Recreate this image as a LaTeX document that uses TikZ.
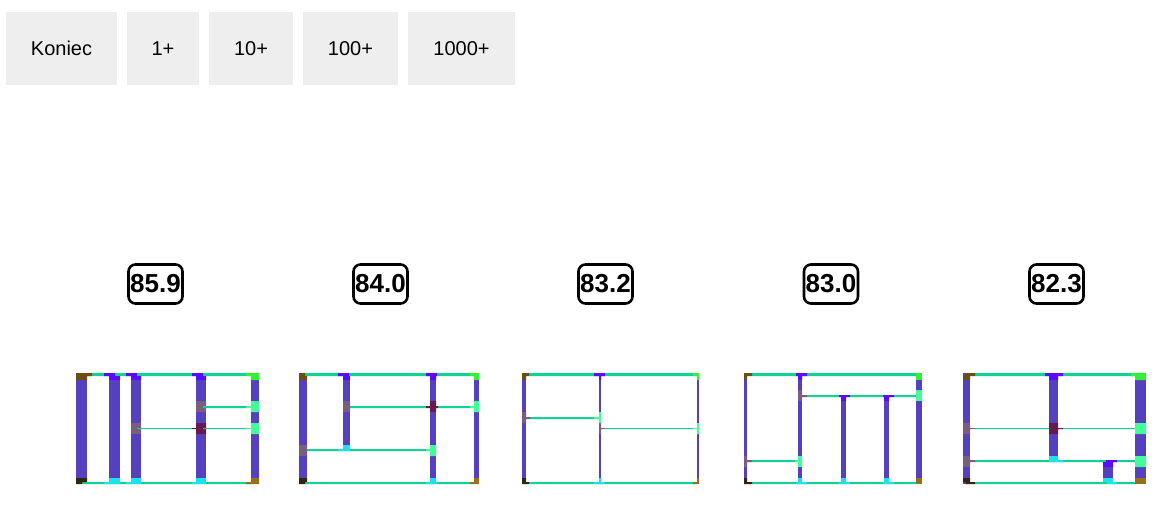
\documentclass[tikz,border=0pt]{standalone}
\usepackage{fontspec}
\setmainfont{Liberation Sans}
\definecolor{btngray}{HTML}{EEEEEE}
\definecolor{wallblue}{HTML}{5541C0}
\definecolor{wallgreen}{HTML}{0FD392}
\definecolor{joinviolet}{HTML}{5A0CFA}
\definecolor{joincyan}{HTML}{1FE1E8}
\definecolor{joinmint}{HTML}{45FC9A}
\definecolor{jointan}{HTML}{7B5E7E}
\definecolor{joincross}{HTML}{661A50}
\definecolor{cornertl}{HTML}{6B4E14}
\definecolor{cornerbl}{HTML}{33240E}
\definecolor{cornertr}{HTML}{32F032}
\definecolor{cornerbr}{HTML}{96701C}
\tikzset{
  btn/.style={fill=btngray,minimum height=73pt,inner sep=0pt,font=\fontsize{20}{24}\selectfont},
  score/.style={draw=black,line width=2.6pt,rounded corners=7pt,minimum width=54pt,minimum height=39pt,inner sep=0pt,fill=white,font=\fontsize{26}{30}\selectfont\bfseries},
  wall/.style={fill=wallblue},
  rail/.style={fill=wallgreen},
  topj/.style={fill=joinviolet},
  botj/.style={fill=joincyan},
  mintj/.style={fill=joinmint},
  tanj/.style={fill=jointan},
  crossj/.style={fill=joincross}
}
\begin{document}
\begin{tikzpicture}[x=1pt,y=-1pt]
\useasboundingbox (0,0) rectangle (1157,511);
\node[btn,minimum width=111pt] (koniec) at (61.5,48.5) {Koniec};
\node[btn,minimum width=72pt] (one) at (163,48.5) {1+};
\node[btn,minimum width=84pt] (ten) at (251,48.5) {10+};
\node[btn,minimum width=95pt] (hundred) at (350.5,48.5) {100+};
\node[btn,minimum width=107pt] (thousand) at (461.5,48.5) {1000+};
\foreach \cx/\val in {155.5/85.9,380.5/84.0,605.5/83.2,831/83.0,1056.5/82.3}
  \node[score] (score\val) at (\cx,284) {\val};
% first plan
\foreach \xa/\xb in {76/87,109/120,131/141,196/206,251/259}
  \fill[wall] (\xa,373) rectangle (\xb,484);
\fill[rail] (82,373) rectangle (251,376) (82,482) rectangle (251,484);
\fill[rail] (137,428) rectangle (192,429) (206,428) rectangle (246,429) (203,406) rectangle (246,408);
\fill[fill=cornertl] (76,373) rectangle (92,376) (76,376) rectangle (87,380);
\fill[fill=cornerbl] (76,478) rectangle (87,482) (76,482) rectangle (82,484);
\fill[fill=cornertr] (246,373) rectangle (259,376) (251,376) rectangle (259,380);
\fill[fill=cornerbr] (246,482) rectangle (259,484) (251,478) rectangle (259,482);
\fill[topj] (104,373) rectangle (115,376) (109,376) rectangle (120,380);
\fill[topj] (126,373) rectangle (137,376) (131,376) rectangle (141,380);
\fill[topj] (192,373) rectangle (203,376) (196,376) rectangle (206,380);
\fill[botj] (104,482) rectangle (120,484) (109,478) rectangle (120,482);
\fill[botj] (126,482) rectangle (141,484) (131,478) rectangle (141,482);
\fill[botj] (192,482) rectangle (206,484) (196,478) rectangle (206,482);
\fill[tanj] (131,423) rectangle (141,434) (196,401) rectangle (206,412);
\fill[crossj] (196,423) rectangle (206,434) (192,428) rectangle (196,429);
\fill[mintj] (251,401) rectangle (259,412) (251,423) rectangle (259,434);
\fill[mintj] (246,406) rectangle (251,408) (246,428) rectangle (251,429);
\fill[rail] (137,428) rectangle (141,429) (203,406) rectangle (206,408) (203,428) rectangle (206,429);
% second plan
\foreach \xa/\xb in {299/307,430/436,474/479}
  \fill[wall] (\xa,373) rectangle (\xb,484);
\fill[wall] (343,373) rectangle (350,449);
\fill[rail] (305,373) rectangle (470,376) (305,482) rectangle (470,484);
\fill[rail] (349,406) rectangle (426,408) (438,406) rectangle (470,408) (305,449) rectangle (426,451);
\fill[fill=cornertl] (299,373) rectangle (305,376) (299,376) rectangle (307,380);
\fill[fill=cornerbl] (299,478) rectangle (307,482) (299,482) rectangle (305,484);
\fill[fill=cornertr] (470,373) rectangle (479,376) (474,376) rectangle (479,380);
\fill[fill=cornerbr] (470,482) rectangle (479,484) (474,478) rectangle (479,482);
\fill[topj] (338,373) rectangle (349,376) (343,376) rectangle (350,380);
\fill[topj] (426,373) rectangle (437,376) (430,376) rectangle (436,380);
\fill[botj] (426,482) rectangle (437,484) (430,478) rectangle (436,482);
\fill[botj] (338,449) rectangle (350,451) (343,445) rectangle (350,449);
\fill[tanj] (299,445) rectangle (307,456) (343,401) rectangle (350,412);
\fill[crossj] (430,401) rectangle (436,412) (426,406) rectangle (438,408);
\fill[mintj] (474,401) rectangle (479,412) (470,406) rectangle (474,408);
\fill[mintj] (430,445) rectangle (436,456) (426,449) rectangle (430,451);
% third plan
\foreach \xa/\xb in {522/526,599/601,697/699}
  \fill[wall] (\xa,373) rectangle (\xb,484);
\fill[rail] (529,373) rectangle (693,376) (529,482) rectangle (693,484);
\fill[rail] (530,417) rectangle (594,419) (605,428) rectangle (693,429);
\fill[fill=cornertl] (522,373) rectangle (529,376) (522,376) rectangle (526,380);
\fill[fill=cornerbl] (522,478) rectangle (526,482) (522,482) rectangle (529,484);
\fill[fill=cornertr] (693,373) rectangle (699,376) (697,376) rectangle (699,380);
\fill[fill=cornerbr] (693,482) rectangle (699,484) (697,478) rectangle (699,482);
\fill[topj] (594,373) rectangle (605,376) (599,376) rectangle (601,380);
\fill[botj] (594,482) rectangle (605,484) (599,478) rectangle (601,482);
\fill[tanj] (522,412) rectangle (526,423) (526,417) rectangle (530,419);
\fill[tanj] (599,423) rectangle (601,434) (601,428) rectangle (605,429);
\fill[mintj] (599,412) rectangle (601,423) (594,417) rectangle (599,419);
\fill[mintj] (697,423) rectangle (699,434) (693,428) rectangle (697,429);
% fourth plan
\foreach \xa/\xb in {744/747,798/802,916/922}
  \fill[wall] (\xa,373) rectangle (\xb,484);
\foreach \xa/\xb in {841/846,884/889}
  \fill[wall] (\xa,397) rectangle (\xb,484);
\fill[rail] (752,373) rectangle (916,376) (752,482) rectangle (916,484);
\fill[rail] (807,395) rectangle (916,397) (752,460) rectangle (795,462);
\fill[fill=cornertl] (744,373) rectangle (752,376) (744,376) rectangle (747,380);
\fill[fill=cornerbl] (744,478) rectangle (747,482) (744,482) rectangle (752,484);
\fill[fill=cornertr] (916,373) rectangle (922,380);
\fill[fill=cornerbr] (916,478) rectangle (922,484);
\fill[topj] (796,373) rectangle (807,376) (798,376) rectangle (802,380);
\fill[topj] (839,395) rectangle (850,397) (841,397) rectangle (846,401);
\fill[topj] (883,395) rectangle (894,397) (884,397) rectangle (889,401);
\fill[botj] (796,482) rectangle (807,484) (798,478) rectangle (802,482);
\fill[botj] (839,482) rectangle (850,484) (841,478) rectangle (846,482);
\fill[botj] (883,482) rectangle (894,484) (884,478) rectangle (889,482);
\fill[tanj] (744,456) rectangle (747,467) (747,460) rectangle (752,462);
\fill[tanj] (798,390) rectangle (802,401) (802,395) rectangle (807,397);
\fill[mintj] (798,456) rectangle (802,467) (795,460) rectangle (798,462);
\fill[mintj] (916,390) rectangle (922,401);
% fifth plan
\foreach \xa/\xb in {963/970,1135/1146}
  \fill[wall] (\xa,373) rectangle (\xb,484);
\fill[wall] (1049,373) rectangle (1058,460);
\fill[wall] (1103,462) rectangle (1113,484);
\fill[rail] (975,373) rectangle (1135,376) (975,482) rectangle (1135,484);
\fill[rail] (975,428) rectangle (1135,429) (975,460) rectangle (1135,462);
\fill[fill=cornertl] (966,373) rectangle (975,376) (963,375) rectangle (970,380);
\fill[fill=cornerbl] (963,478) rectangle (970,482) (966,482) rectangle (975,484);
\fill[fill=cornertr] (1131,373) rectangle (1146,376) (1135,376) rectangle (1146,380);
\fill[fill=cornerbr] (1135,478) rectangle (1146,484);
\fill[topj] (1045,373) rectangle (1063,376) (1049,376) rectangle (1058,380);
\fill[topj] (1106,460) rectangle (1117,462) (1103,462) rectangle (1113,467);
\fill[botj] (1049,456) rectangle (1058,460) (1049,460) rectangle (1063,462);
\fill[botj] (1107,482) rectangle (1117,484) (1103,478) rectangle (1113,482);
\fill[tanj] (963,423) rectangle (970,434) (970,428) rectangle (975,429);
\fill[tanj] (963,456) rectangle (970,467) (970,460) rectangle (975,462);
\fill[crossj] (1049,423) rectangle (1058,434) (1058,428) rectangle (1063,429);
\fill[mintj] (1135,423) rectangle (1146,434) (1135,456) rectangle (1146,467);
\end{tikzpicture}
\end{document}
